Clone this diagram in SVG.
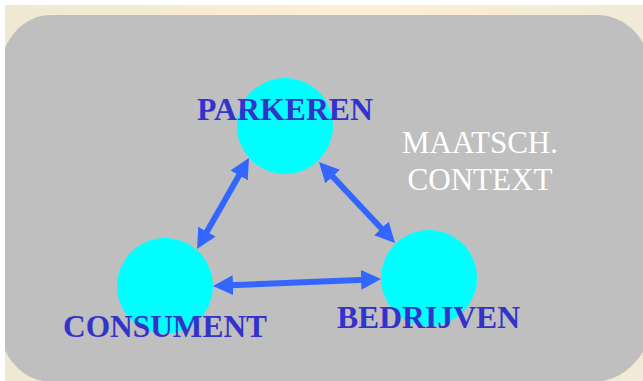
<svg xmlns="http://www.w3.org/2000/svg" width="643" height="381" viewBox="0 0 643 381">
  <style>
    .node-circle { fill: #00ffff; }
    .label { font-family: "Liberation Serif", "Times New Roman", serif; font-weight: bold; font-size: 32px; fill: #3333cc; }
    .context { font-family: "Liberation Serif", "Times New Roman", serif; font-size: 30.5px; fill: #ffffff; text-anchor: middle; }
    .conn { stroke: #3366ff; stroke-width: 6; fill: none; marker-start: url(#head); marker-end: url(#head); }
  </style>
  <defs>
    <linearGradient id="cream" x1="0" y1="0" x2="1" y2="0">
      <stop offset="0" stop-color="#efe8d3"/>
      <stop offset="0.55" stop-color="#fcefd6"/>
      <stop offset="1" stop-color="#f1ead6"/>
    </linearGradient>
    <marker id="head" markerUnits="userSpaceOnUse" markerWidth="20" markerHeight="20" refX="10" refY="10" orient="auto-start-reverse" viewBox="0 0 20 20">
      <path d="M0,0 L20,10 L0,20 Z" fill="#3366ff"/>
    </marker>
  </defs>
  <rect width="643" height="381" fill="#ffffff"/>
  <rect id="panel" x="5" y="5" width="638" height="376" fill="url(#cream)"/>
  <path id="context-area" d="M5,48 C14,28 30,15 52,15 L597,15 C618,15 635,28 643,43 L643,352 C633,367 620,378 603,381 L43,381 C25,378 12,365 5,350 Z" fill="#bfbfbf"/>
  <g id="context-label">
    <text class="context" x="480" y="153" textLength="156" lengthAdjust="spacingAndGlyphs">MAATSCH.</text>
    <text class="context" x="480" y="190" textLength="145" lengthAdjust="spacingAndGlyphs">CONTEXT</text>
  </g>
  <g id="node-parkeren">
    <circle class="node-circle" cx="285" cy="126" r="48"/>
    <text class="label" x="197" y="120" textLength="176" lengthAdjust="spacingAndGlyphs">PARKEREN</text>
  </g>
  <g id="node-consument">
    <circle class="node-circle" cx="165" cy="286" r="48"/>
    <text class="label" x="63" y="337" textLength="204" lengthAdjust="spacingAndGlyphs">CONSUMENT</text>
  </g>
  <g id="node-bedrijven">
    <circle class="node-circle" cx="429" cy="278" r="48"/>
    <text class="label" x="337" y="328" textLength="183" lengthAdjust="spacingAndGlyphs">BEDRIJVEN</text>
  </g>
  <g id="connectors">
    <line class="conn" x1="244" y1="166.7" x2="202" y2="240.3"/>
    <line class="conn" x1="325.8" y1="169.3" x2="388.2" y2="235.7"/>
    <line class="conn" x1="223" y1="285.6" x2="371" y2="279.4"/>
  </g>
</svg>
